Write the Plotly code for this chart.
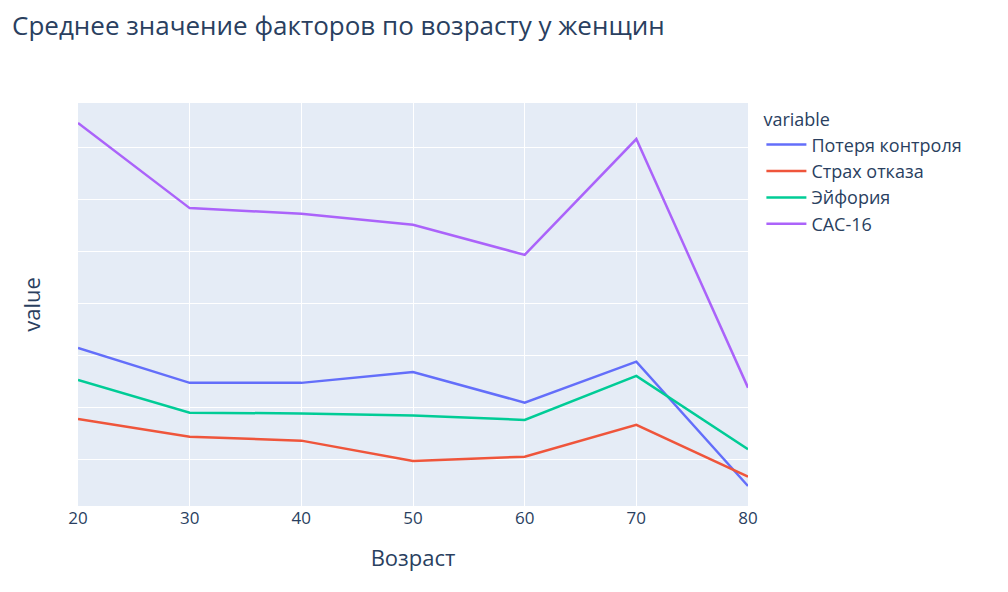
import pandas as pd
import plotly.express as px

# Mean factor scores by age (women)
age = [20, 30, 40, 50, 60, 70, 80]
loss_of_control = [20.72, 17.36, 17.36, 18.41, 15.46, 19.40, 7.45]
fear_of_rejection = [13.89, 12.19, 11.81, 9.86, 10.27, 13.32, 8.35]
euphoria = [17.64, 14.50, 14.42, 14.23, 13.80, 18.03, 10.98]
cac16 = [42.33, 34.15, 33.61, 32.55, 29.66, 40.79, 16.90]

df = pd.DataFrame({
    'Возраст': age,
    'Потеря контроля': loss_of_control,
    'Страх отказа': fear_of_rejection,
    'Эйфория': euphoria,
    'CAC-16': cac16,
})

fig = px.line(df, x='Возраст',
              y=['Потеря контроля', 'Страх отказа', 'Эйфория', 'CAC-16'],
              title='Среднее значение факторов по возрасту у женщин')

fig.update_traces(line_width=2.5)

# page body adds 8px around the figure, so size/margins are trimmed for it
fig.update_layout(
    width=1000, height=584,
    margin=dict(l=70, r=260, t=95, b=86),
    font=dict(size=17),
    title=dict(x=0.004, y=0.97, yanchor='middle', font=dict(size=26)),
    legend=dict(title_font_size=18, font_size=18, itemwidth=40,
                tracegroupgap=0, y=1.0),
    xaxis=dict(title=dict(text='Возраст', font_size=22, standoff=22),
               tickfont_size=17, dtick=10),
    yaxis=dict(title=dict(text='value', font_size=22, standoff=30),
               showticklabels=False, range=[5.53, 44.25], dtick=5),
)

fig.write_html('out.html')
